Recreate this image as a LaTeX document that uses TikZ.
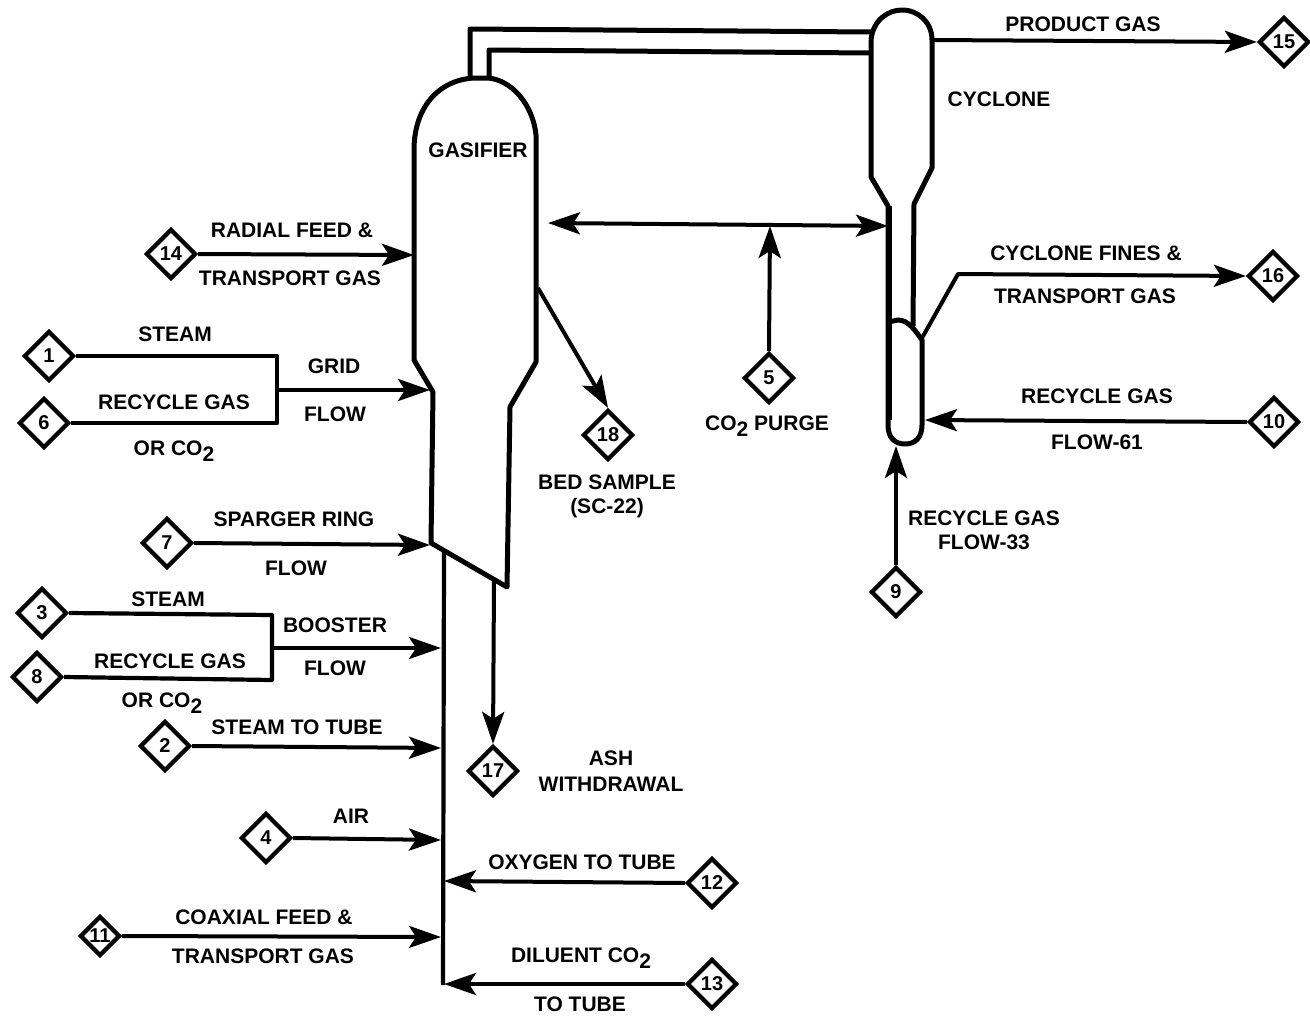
\documentclass[tikz,border=0pt]{standalone}
\usepackage{fontspec}
\setmainfont{Liberation Sans}
\usetikzlibrary{shapes.geometric,arrows.meta}
\newcommand\subtwo{\raisebox{-6pt}{2}}
\tikzset{
  tag/.style={diamond,draw=black,line width=4.2pt,minimum width=50pt,minimum height=50pt,inner sep=0pt,font=\fontsize{20}{20}\bfseries\selectfont,aspect=1},
  lbl/.style={inner sep=0pt,align=center,font=\fontsize{21}{24}\bfseries\selectfont},
  pipe/.style={line width=4.2pt,line join=round},
  vessel/.style={line width=5pt,line join=round},
  flow/.style={line width=4pt,line join=round,-{Stealth[length=32pt,width=22pt,inset=7pt]}},
  bothflow/.style={line width=4pt,{Stealth[length=32pt,width=22pt,inset=7pt]}-{Stealth[length=32pt,width=22pt,inset=7pt]}}
}
\begin{document}
\begin{tikzpicture}[x=1pt,y=-1pt]
\useasboundingbox (0,0) rectangle (1310,1018);
% vessels
\draw[vessel] (470,80) -- (470,29) -- (871,32);
\draw[vessel] (489,78) -- (489,50) -- (871,53);
\draw[vessel] (414,150) .. controls (414,108) and (438,80) .. (474,78) -- (488,78)
  .. controls (512,80) and (533,105) .. (536,135) -- (536,362) -- (510,407) -- (507,587) -- (431,543) -- (433,392) -- (414,360) -- cycle;
\draw[vessel] (871,40) .. controls (873,20) and (888,10) .. (902,10) .. controls (918,10) and (932,22) .. (932,40)
  -- (932,168) -- (914,204) -- (913,326);
\draw[vessel] (871,40) -- (871,177) -- (888,206) -- (888,425)
  .. controls (888,438) and (895,444) .. (905,444) .. controls (915,444) and (922,438) .. (922,425) -- (922,340)
  .. controls (915,330) and (908,320) .. (898,320) -- (888,322);
\draw[line width=3pt] (890,206) -- (890,420);
% gasifier tube
\coordinate (tubetop) at (444,552); \coordinate (tubebot) at (443,985);
\draw[pipe] (tubetop) -- (tubebot);
% diamonds
\node[tag] (d14) at (171,254) {14};
\node[tag] (d1) at (49,356) {1};
\node[tag] (d6) at (44,423) {6};
\node[tag] (d7) at (167,543) {7};
\node[tag] (d3) at (42,613) {3};
\node[tag] (d8) at (37,677) {8};
\node[tag] (d2) at (165,746) {2};
\node[tag] (d4) at (266,838) {4};
\node[tag,minimum width=40pt,minimum height=40pt] (d11) at (100,936) {11};
\node[tag] (d17) at (493,771) {17};
\node[tag] (d18) at (608,435) {18};
\node[tag] (d5) at (769,378) {5};
\node[tag] (d9) at (896,592) {9};
\node[tag] (d10) at (1274,422) {10};
\node[tag] (d15) at (1284,42) {15};
\node[tag] (d16) at (1273,276) {16};
\node[tag] (d12) at (712,883) {12};
\node[tag] (d13) at (712,984) {13};
% free ends
\coordinate (a14) at (414,255);
\coordinate (j16) at (277,356); \coordinate (j66) at (277,423); \coordinate (jg) at (277,390); \coordinate (ag) at (430,390);
\coordinate (a7) at (430,545);
\coordinate (j3) at (272,615); \coordinate (j8) at (272,680); \coordinate (jb) at (272,648); \coordinate (ab) at (441,648);
\coordinate (a2) at (441,748); \coordinate (a4) at (441,840); \coordinate (a11) at (441,937);
\coordinate (a12) at (444,881); \coordinate (a13) at (444,984);
\coordinate (s17) at (494,581); \coordinate (s18) at (538,288);
\coordinate (dl) at (548,223); \coordinate (dr) at (888,226); \coordinate (a5) at (770,226);
\coordinate (s15) at (932,40); \coordinate (a10) at (925,420); \coordinate (a9) at (896,446);
\coordinate (s16) at (922,338); \coordinate (k16) at (958,274);
% connectors
\draw[flow] (d14.east) -- (a14);
\draw[pipe] (d1.east) -- (j16) -- (j66) -- (d6.east);
\draw[flow] (jg) -- (ag);
\draw[flow] (d7.east) -- (a7);
\draw[pipe] (d3.east) -- (j3) -- (j8) -- (d8.east);
\draw[flow] (jb) -- (ab);
\draw[flow] (d2.east) -- (a2);
\draw[flow] (d4.east) -- (a4);
\draw[flow] (d11.east) -- (a11);
\draw[flow] (d12.west) -- (a12);
\draw[flow] (d13.west) -- (a13);
\draw[flow] (s17) -- (d17.north);
\draw[flow] (s18) -- (d18.north);
\draw[bothflow] (dl) -- (dr);
\draw[flow] (d5.north) -- (a5);
\draw[flow] (s15) -- (d15.west);
\draw[flow] (d10.west) -- (a10);
\draw[flow] (d9.north) -- (a9);
\draw[flow] (s16) -- (k16) -- (d16.west);
% labels
\node[lbl] (t1) at (478,150) {GASIFIER};
\node[lbl] (t2) at (999,99) {CYCLONE};
\node[lbl] (t3) at (1083,24) {PRODUCT GAS};
\node[lbl] (t4) at (292,230) {RADIAL FEED \&};
\node[lbl] (t5) at (290,278) {TRANSPORT GAS};
\node[lbl] (t6) at (175,334) {STEAM};
\node[lbl] (t7) at (174,402) {RECYCLE GAS};
\node[lbl] (t8) at (174,451) {OR CO\subtwo};
\node[lbl] (t9) at (334,366) {GRID};
\node[lbl] (t10) at (335,414) {FLOW};
\node[lbl] (t11) at (294,519) {SPARGER RING};
\node[lbl] (t12) at (296,568) {FLOW};
\node[lbl] (t13) at (168,599) {STEAM};
\node[lbl] (t14) at (170,661) {RECYCLE GAS};
\node[lbl] (t15) at (162,703) {OR CO\subtwo};
\node[lbl] (t16) at (335,625) {BOOSTER};
\node[lbl] (t17) at (335,668) {FLOW};
\node[lbl] (t18) at (297,727) {STEAM TO TUBE};
\node[lbl] (t19) at (351,816) {AIR};
\node[lbl] (t20) at (264,917) {COAXIAL FEED \&};
\node[lbl] (t21) at (263,956) {TRANSPORT GAS};
\node[lbl] (t22) at (582,862) {OXYGEN TO TUBE};
\node[lbl] (t23) at (581,958) {DILUENT CO\subtwo};
\node[lbl] (t24) at (580,1004) {TO TUBE};
\node[lbl] (t25) at (611,771) {ASH\\[2pt]WITHDRAWAL};
\node[lbl] (t26) at (607,496) {BED SAMPLE\\(SC-22)};
\node[lbl] (t27) at (767,426) {CO\subtwo{} PURGE};
\node[lbl] (t28) at (1086,253) {CYCLONE FINES \&};
\node[lbl] (t29) at (1085,296) {TRANSPORT GAS};
\node[lbl] (t30) at (1097,396) {RECYCLE GAS};
\node[lbl] (t31) at (1097,442) {FLOW-61};
\node[lbl] (t32) at (984,530) {RECYCLE GAS\\FLOW-33};
\end{tikzpicture}
\end{document}
